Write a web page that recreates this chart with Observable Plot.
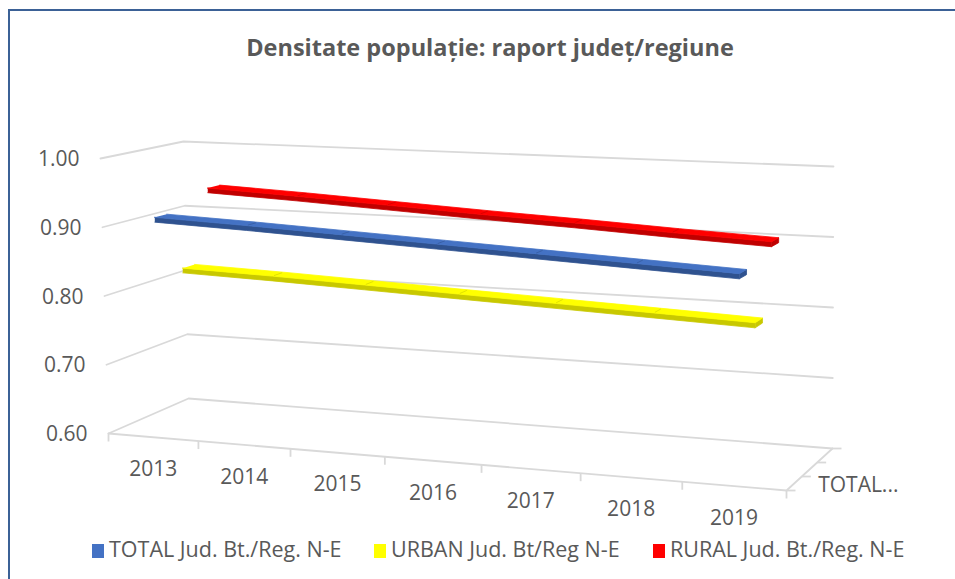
<!DOCTYPE html>
<html><head><meta charset="utf-8">
<script src="https://cdn.jsdelivr.net/npm/d3@7"></script>
<script src="https://cdn.jsdelivr.net/npm/@observablehq/plot@0.6"></script>
<style>
html,body{margin:0;padding:0;background:#fff;font-family:"Open Sans",sans-serif;overflow:hidden;width:955px;height:579px;}
#frame{position:absolute;left:8px;top:9px;width:980px;height:600px;border-left:2.5px solid #3b6196;border-top:2.5px solid #3b6196;}
#title{position:absolute;left:0;width:980px;top:32px;text-align:center;font-weight:bold;font-size:23.5px;line-height:30px;color:#595959;}
#chart{position:absolute;left:0;top:70px;}
.item{position:absolute;top:535px;font-size:21.5px;line-height:28px;color:#595959;white-space:nowrap;}
.sw{display:inline-block;width:12px;height:14px;margin-right:5px;vertical-align:-1px;}
</style></head><body>
<div id="frame"></div>
<div id="title">Densitate populație: raport județ/regiune</div>
<div id="chart"></div>
<div id="legend"></div>
<script>
// ---- data ----
const years = ["2013","2014","2015","2016","2017","2018","2019"];
const seriesNames = ["TOTAL Jud. Bt./Reg. N-E","URBAN Jud. Bt/Reg N-E","RURAL Jud. Bt./Reg. N-E"];
const total = [0.915,0.910,0.904,0.898,0.892,0.886,0.880];
const urban = [0.829,0.825,0.820,0.815,0.810,0.805,0.800];
const rural = [0.938,0.932,0.925,0.918,0.912,0.905,0.899];
const yTicks = [0.60,0.70,0.80,0.90,1.00];
const depthLabels = ["TOTAL..."];
const topColors = ["#4472C4","#FFFF00","#FF0000"];
const sideColors = ["#2F528F","#C8C800","#C00000"];
const legendLeft = [92,374,653];

// ---- 3D box projection (perspective box of the Excel 3-D chart) ----
const vMin = 0.6, vMax = 1.0, nCat = years.length, q = 1.09;
const box = {FLB:[108,433],FRB:[786,490],BLB:[188,398],BRB:[832,448],
             FLT:[100,158],FRT:[788,188],BLT:[183,141],BRT:[833,166]};
const lerp = (a,b,k)=>[a[0]+(b[0]-a[0])*k, a[1]+(b[1]-a[1])*k];
function proj(u,v,w){
  const t = u/nCat, tp = t/(q-(q-1)*t), s = (v-vMin)/(vMax-vMin);
  const fb = lerp(box.FLB,box.FRB,tp), ft = lerp(box.FLT,box.FRT,tp);
  const bb = lerp(box.BLB,box.BRB,tp), bt = lerp(box.BLT,box.BRT,tp);
  return lerp(lerp(fb,ft,s), lerp(bb,bt,s), w);
}
const P = (u,v,w,z)=>{const [x,y]=proj(u,v,w); return {x,y,z};};

// gridlines: left wall + back wall
const grid = yTicks.flatMap((v,i)=>[P(0,v,0,i),P(0,v,1,i),P(nCat,v,1,i)]);
// floor front + right edges
const floor = [P(0,vMin,0,"f"),P(nCat,vMin,0,"f"),P(nCat,vMin,1,"f")];
// category ticks on front edge
const catTicks = d3.range(nCat+1).map(k=>{const [x,y]=proj(k,vMin,0);return {x,y};});
// depth ticks on right edge
const depthTicks = [0,1/3,2/3,1].map(w=>{const [x,y]=proj(nCat,vMin,w);return {x,y};});
const yLab = yTicks.map(v=>{const [x,y]=proj(0,v,0);return {x,y,t:v.toFixed(2)};});
const xLab = years.map((yr,k)=>{const [x,y]=proj(k+0.5,vMin,0);return {x,y,t:yr};});
const dLab = depthLabels.map((t,i)=>{const [x,y]=proj(nCat,vMin,(i+0.5)/3);return {x,y,t};});

// ribbons
const seriesVals = [total,urban,rural];
const half = 0.075, thick = 0.007;
function ribbon(vals, si){
  const wc = (si+0.5)/3, w0 = wc-half, w1 = wc+half;
  const top = [], side = [], joints = [];
  vals.forEach((v,k)=>top.push(P(k+0.5,v,w0,si)));
  [...vals].reverse().forEach((v,j)=>{const k=vals.length-1-j; top.push(P(k+0.5,v,w1,si));});
  vals.forEach((v,k)=>side.push(P(k+0.5,v,w0,si)));
  [...vals].reverse().forEach((v,j)=>{const k=vals.length-1-j; side.push(P(k+0.5,v-thick,w0,si));});
  vals.forEach((v,k)=>{ if (k>0 && k<vals.length-1){
    const a = proj(k+0.5,v,w0+0.02), b = proj(k+0.5,v,w1-0.02);
    joints.push({x1:a[0],y1:a[1],x2:b[0],y2:b[1]}); }});
  const n = vals.length-1, vn = vals[n];
  const cap = [P(n+0.5,vn,w0,si),P(n+0.5,vn,w1,si),P(n+0.5,vn-thick,w1,si),P(n+0.5,vn-thick,w0,si)];
  return {top, side, cap, joints};
}
const ribbons = seriesVals.map((vals,i)=>ribbon(vals,i));

const T = 70, H = 470, W = 955;
const font = {fill:"#595959",fontFamily:"Open Sans",fontSize:21};
const marks = [
  Plot.line(grid,{x:"x",y:"y",z:"z",stroke:"#d9d9d9",strokeWidth:1.8}),
  Plot.line(floor,{x:"x",y:"y",z:"z",stroke:"#d9d9d9",strokeWidth:1.8}),
  Plot.link(catTicks,{x1:"x",y1:"y",x2:"x",y2:d=>d.y+8,stroke:"#d9d9d9",strokeWidth:1.8}),
  Plot.link(depthTicks,{x1:"x",y1:"y",x2:d=>d.x+9,y2:"y",stroke:"#d9d9d9",strokeWidth:1.8}),
  Plot.text(yLab,{x:"x",y:"y",text:"t",dx:-21,dy:1,textAnchor:"end",...font}),
  Plot.text(xLab,{x:"x",y:"y",text:"t",dy:32,...font}),
  Plot.text(dLab,{x:"x",y:"y",text:"t",dx:24,dy:2,textAnchor:"start",...font})
];
[2,1,0].forEach(i=>{
  const r = ribbons[i];
  marks.push(Plot.line(r.side,{x:"x",y:"y",z:"z",fill:sideColors[i],stroke:sideColors[i],strokeWidth:0.8,curve:"linear"}));
  marks.push(Plot.line(r.cap,{x:"x",y:"y",z:"z",fill:sideColors[i],stroke:sideColors[i],strokeWidth:0.8,curve:"linear"}));
  marks.push(Plot.line(r.top,{x:"x",y:"y",z:"z",fill:topColors[i],stroke:topColors[i],strokeWidth:0.8,curve:"linear"}));
  marks.push(Plot.link(r.joints,{x1:"x1",y1:"y1",x2:"x2",y2:"y2",stroke:sideColors[i],strokeWidth:1,strokeOpacity:0.55}));
});

const chart = Plot.plot({
  width: W, height: H, margin: 0,
  x: {domain:[0,W], range:[0,W], axis:null},
  y: {domain:[T,T+H], range:[0,H], axis:null},
  style: {background:"transparent", overflow:"visible"},
  marks
});
document.getElementById("chart").appendChild(chart);

const leg = document.getElementById("legend");
seriesNames.forEach((name,i)=>{
  const d = document.createElement("div");
  d.className = "item"; d.style.left = legendLeft[i]+"px";
  d.innerHTML = `<span class="sw" style="background:${topColors[i]}"></span>${name}`;
  leg.appendChild(d);
});
</script>
</body></html>
